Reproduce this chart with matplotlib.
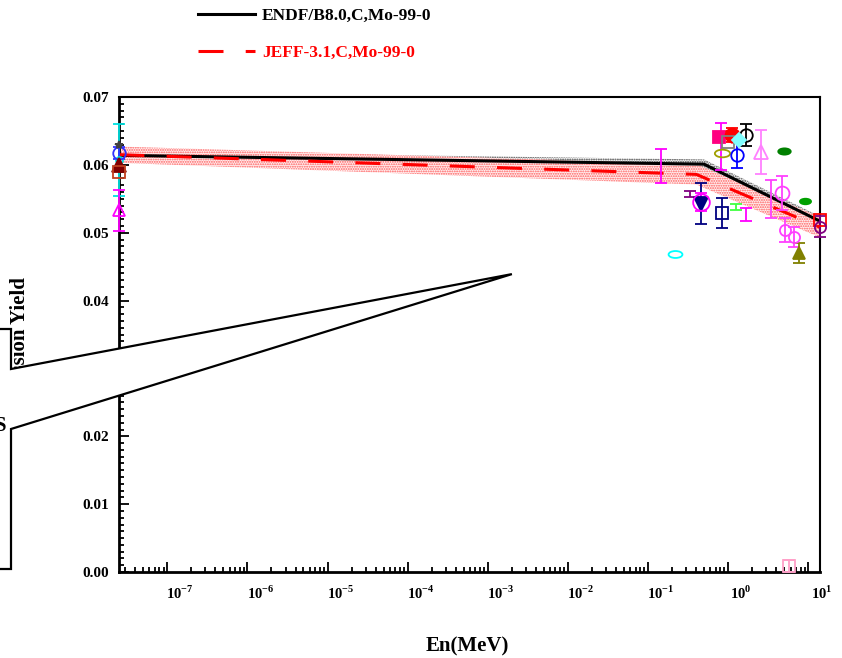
import numpy as np
import matplotlib
matplotlib.use("Agg")
import matplotlib.pyplot as plt
from matplotlib.path import Path
from matplotlib.patches import Polygon
from matplotlib.transforms import Affine2D, ScaledTranslation
from matplotlib.ticker import LogLocator, MultipleLocator, FuncFormatter, NullFormatter

plt.rcParams['font.family'] = ['Liberation Serif', 'DejaVu Serif']
plt.rcParams['font.weight'] = 'bold'
plt.rcParams['mathtext.fontset'] = 'custom'
plt.rcParams['mathtext.rm'] = 'Liberation Serif:bold'
plt.rcParams['mathtext.bf'] = 'Liberation Serif:bold'
plt.rcParams['lines.scale_dashes'] = False
plt.rcParams['hatch.linewidth'] = 0.9

# evaluated yields (thermal, knee, 14 MeV)
endf_E = [2.53e-8, 0.5, 14.0]
endf_Y = [0.0614, 0.0601, 0.0517]
endf_dY = [0.0006, 0.0007, 0.0007]

jeff_E = [2.53e-8, 0.4, 14.0]
jeff_Y = [0.0615, 0.0586, 0.0508]
jeff_dY = [0.0012, 0.0015, 0.0015]

# experimental data (EXFOR-like points)
exp_E = [2.53e-8, 2.53e-8, 2.53e-8, 2.53e-8, 2.53e-8, 2.53e-8,
         0.77, 0.82, 1.12, 1.12, 1.68, 1.0, 1.37, 0.84, 1.3, 2.57,
         5.0, 4.7, 5.1, 6.6, 3.4, 7.7, 9.0, 14.0, 14.0,
         0.46, 0.46, 0.33, 0.84, 1.26, 1.68, 0.146, 0.22, 5.8]
exp_Y = [0.0607, 0.0617, 0.0630, 0.0600, 0.0589, 0.0533,
         0.0641, 0.0627, 0.0644, 0.0641, 0.0644, 0.0633, 0.0636, 0.0617, 0.0615, 0.0619,
         0.0620, 0.0559, 0.0504, 0.0494, 0.0550, 0.0470, 0.0547, 0.0519, 0.0509,
         0.0543, 0.0545, 0.0557, 0.0529, 0.0538, 0.0527, 0.0598, 0.0469, 0.0009]
exp_dY = [0.0053, 0.0009, 0.0, 0.0, 0.0, 0.0030,
          0.0, 0.0035, 0.0010, 0.0, 0.0016, 0.0, 0.0, 0.0, 0.0020, 0.0033,
          0.0, 0.0025, 0.0018, 0.0015, 0.0028, 0.0015, 0.0, 0.0, 0.0015,
          0.0030, 0.0013, 0.0005, 0.0022, 0.0005, 0.0010, 0.0025, 0.0, 0.0009]

# marker styles for the experimental points ('e' = ellipse, '' = bar only)
exp_marker = ['o', 'o', '*', '^', 's', '^',
              's', '', 'o', 'v', 'o', 's', 'D', 'e', 'o', '^',
              'e', 'o', 'o', 'o', '', '^', 'e', 's', 'o',
              'v', 'o', '', 's', '', '', '', 'e', 's']
exp_color = ['#00e0e0', '#3030ff', '#404040', '#800000', '#c04020', '#ff00ff',
             '#ff0080', '#ff00ff', '#ff0000', '#ff0000', '#000000', '#808080', '#80ffff', '#a0a000', '#0000ff', '#ff80ff',
             '#008000', '#ff40ff', '#ff40ff', '#ff40ff', '#ff40ff', '#808000', '#00a000', '#ff0000', '#800080',
             '#000080', '#ff00ff', '#800080', '#000080', '#40ff40', '#ff00ff', '#ff00ff', '#00ffff', '#ffa0c8']
exp_filled = [False, False, True, True, False, False,
              True, False, True, True, False, False, True, False, False, False,
              True, False, False, False, False, True, True, False, False,
              True, False, False, False, False, False, False, False, False]
exp_size = [5, 9, 6, 10, 8, 9,
            9, 0, 10, 9, 9, 8, 7, 11, 9, 10,
            9, 10, 8, 8, 0, 9, 8, 8, 8,
            10, 12, 0, 9, 0, 0, 0, 10, 9]

W, H = 842, 658
fig = plt.figure(figsize=(W / 100, H / 100), dpi=100)
ax = fig.add_axes([119 / W, 86 / H, 701 / W, 475 / H])
ax.set_xscale('log')
ax.set_xlim(2.5e-8, 14.0)
ax.set_ylim(0.0, 0.07)

# uncertainty bands
lo = np.array(endf_Y) - np.array(endf_dY)
hi = np.array(endf_Y) + np.array(endf_dY)
ax.fill_between(endf_E, lo, hi, facecolor='#f0f0f0', edgecolor='#404040',
                hatch='.......', linewidth=0, zorder=1)
lo = np.array(jeff_Y) - np.array(jeff_dY)
hi = np.array(jeff_Y) + np.array(jeff_dY)
ax.fill_between(jeff_E, lo, hi, facecolor='#fff0f0', edgecolor='#ff5a5a',
                hatch='.......', linewidth=0, zorder=2)

l1, = ax.plot(endf_E, endf_Y, color='black', lw=2.2, zorder=3,
              label='ENDF/B8.0,C,Mo-99-0')
l2, = ax.plot(jeff_E, jeff_Y, color='red', lw=2.2, ls=(0, (18, 16)), zorder=4,
              label='JEFF-3.1,C,Mo-99-0')

ellipse = Path.unit_circle().transformed(Affine2D().scale(1.0, 0.5))
for i in range(len(exp_E)):
    mk = ellipse if exp_marker[i] == 'e' else exp_marker[i]
    c = exp_color[i]
    err = exp_dY[i] if exp_dY[i] > 0 else None
    ax.errorbar(exp_E[i], exp_Y[i], yerr=err, marker=mk if mk != '' else 'none',
                ms=exp_size[i], mfc=c if exp_filled[i] else 'none', mec=c,
                mew=1.3, color=c, elinewidth=1.3, capsize=4, capthick=1.3,
                ls='none', clip_on=False, zorder=5)

# axes styling
for s in ['left', 'bottom']:
    ax.spines[s].set_linewidth(2)
for s in ['top', 'right']:
    ax.spines[s].set_linewidth(1.5)

ax.yaxis.set_major_locator(MultipleLocator(0.01))
ax.yaxis.set_minor_locator(MultipleLocator(0.001))
ax.yaxis.set_major_formatter(FuncFormatter(lambda v, p: '%.2f' % v))
ax.xaxis.set_major_locator(LogLocator(base=10, numticks=20))
ax.xaxis.set_minor_locator(LogLocator(base=10, subs=np.arange(2, 10), numticks=20))
ax.xaxis.set_minor_formatter(NullFormatter())
ax.xaxis.set_major_formatter(FuncFormatter(
    lambda v, p: r'$10^{%d}$' % int(round(np.log10(v)))))

ax.tick_params(which='both', direction='in', top=False, right=False, width=1.3)
ax.tick_params(which='major', length=7.5)
ax.tick_params(which='minor', length=3.6)
ax.tick_params(axis='y', labelsize=11, pad=7)
ax.tick_params(axis='x', labelsize=10.5, pad=9)
for lab in ax.get_yticklabels():
    lab.set_fontweight('bold')
shift = ScaledTranslation(0.13, 0, fig.dpi_scale_trans)
for lab in ax.get_xticklabels():
    lab.set_transform(lab.get_transform() + shift)

ax.set_xlabel('En(MeV)', fontsize=15, fontweight='bold')
ax.xaxis.set_label_coords(0.497, -0.135)
ax.set_ylabel('Fission Yield', fontsize=15, fontweight='bold')
ax.yaxis.set_label_coords(-0.127, 0.5)

fig.legend(handles=[l1, l2], loc='upper left', bbox_to_anchor=(189 / W, 1 + 1 / H),
           frameon=False, handlelength=3.3, handletextpad=0.4,
           borderpad=0, labelspacing=1.2, labelcolor='linecolor',
           prop={'weight': 'bold', 'size': 12.5})

# callout box on the left
def px(x, y):
    return (x / W, 1 - y / H)

tip_disp = ax.transData.transform((2.0e-3, 0.0439))
tip = fig.transFigure.inverted().transform(tip_disp)
verts = [px(-5, 329), px(11, 329), px(11, 369), tuple(tip),
         px(11, 429), px(11, 569), px(-5, 569)]
fig.add_artist(Polygon(verts, closed=True, facecolor='white', edgecolor='black',
                       lw=1.6, zorder=5, transform=fig.transFigure))
fig.text(6 / W, 1 - 426 / H, 'S', ha='right', va='center', fontsize=15,
         fontweight='bold', zorder=6)

fig.savefig('out.png', dpi=100)
